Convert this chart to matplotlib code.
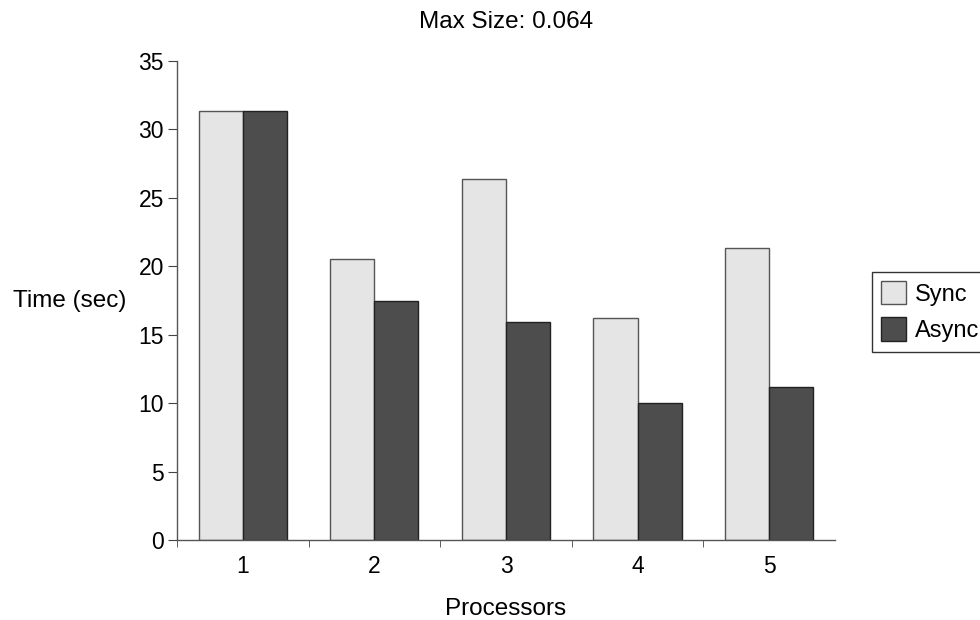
import matplotlib
matplotlib.use("Agg")
import matplotlib.pyplot as plt
import numpy as np

plt.rcParams['font.family'] = ['Liberation Sans', 'DejaVu Sans']

processors = ["1", "2", "3", "4", "5"]
sync_times = [31.3, 20.55, 26.4, 16.2, 21.3]
async_times = [31.35, 17.45, 15.9, 10.0, 11.2]

fig = plt.figure(figsize=(9.8, 6.2), dpi=100)
ax = fig.add_axes([0.1806, 0.129, 0.852 - 0.1806, 0.902 - 0.129])

x = np.arange(len(processors))
w = 0.335
ax.bar(x - w / 2, sync_times, width=w, color="#e5e5e5", edgecolor="#555555",
       linewidth=1.0, label="Sync")
ax.bar(x + w / 2, async_times, width=w, color="#4d4d4d", edgecolor="#222222",
       linewidth=1.0, label="Async")

ax.set_xlim(-0.5, len(processors) - 0.5)
ax.set_ylim(0, 35)
ax.set_yticks(np.arange(0, 36, 5))

# category labels centred, tick marks on category boundaries
ax.set_xticks(x)
ax.set_xticklabels(processors)
ax.tick_params(axis="x", length=0, pad=11)
ax.set_xticks(np.arange(-0.5, len(processors) - 0.5, 1.0), minor=True)
ax.tick_params(axis="x", which="minor", length=5, direction="out", color="#444444")
ax.tick_params(axis="y", length=6.5, direction="out", color="#444444", pad=3)
ax.tick_params(labelsize=16.5)

for side in ("top", "right"):
    ax.spines[side].set_visible(False)
for side in ("left", "bottom"):
    ax.spines[side].set_color("#555555")
    ax.spines[side].set_linewidth(1.0)

ax.set_title("Max Size: 0.064", fontsize=17.5, y=1.081, pad=0, va="center")
ax.set_xlabel("Processors", fontsize=17.5, va="center")
ax.xaxis.set_label_coords(0.5, -0.144)
ax.set_ylabel("Time (sec)", fontsize=17.5, rotation=0, ha="center", va="center")
ax.yaxis.set_label_coords(-0.1626, 0.499)

leg = fig.legend(loc="upper left", bbox_to_anchor=(872 / 980, 1 - 271.5 / 620),
                 fontsize=17, frameon=True, fancybox=False, borderpad=0.4,
                 handlelength=1.05, handleheight=1.15, handletextpad=0.35,
                 labelspacing=0.5, borderaxespad=0)
leg.get_frame().set_edgecolor("black")
leg.get_frame().set_linewidth(1.0)

fig.savefig("out.png", dpi=100)
